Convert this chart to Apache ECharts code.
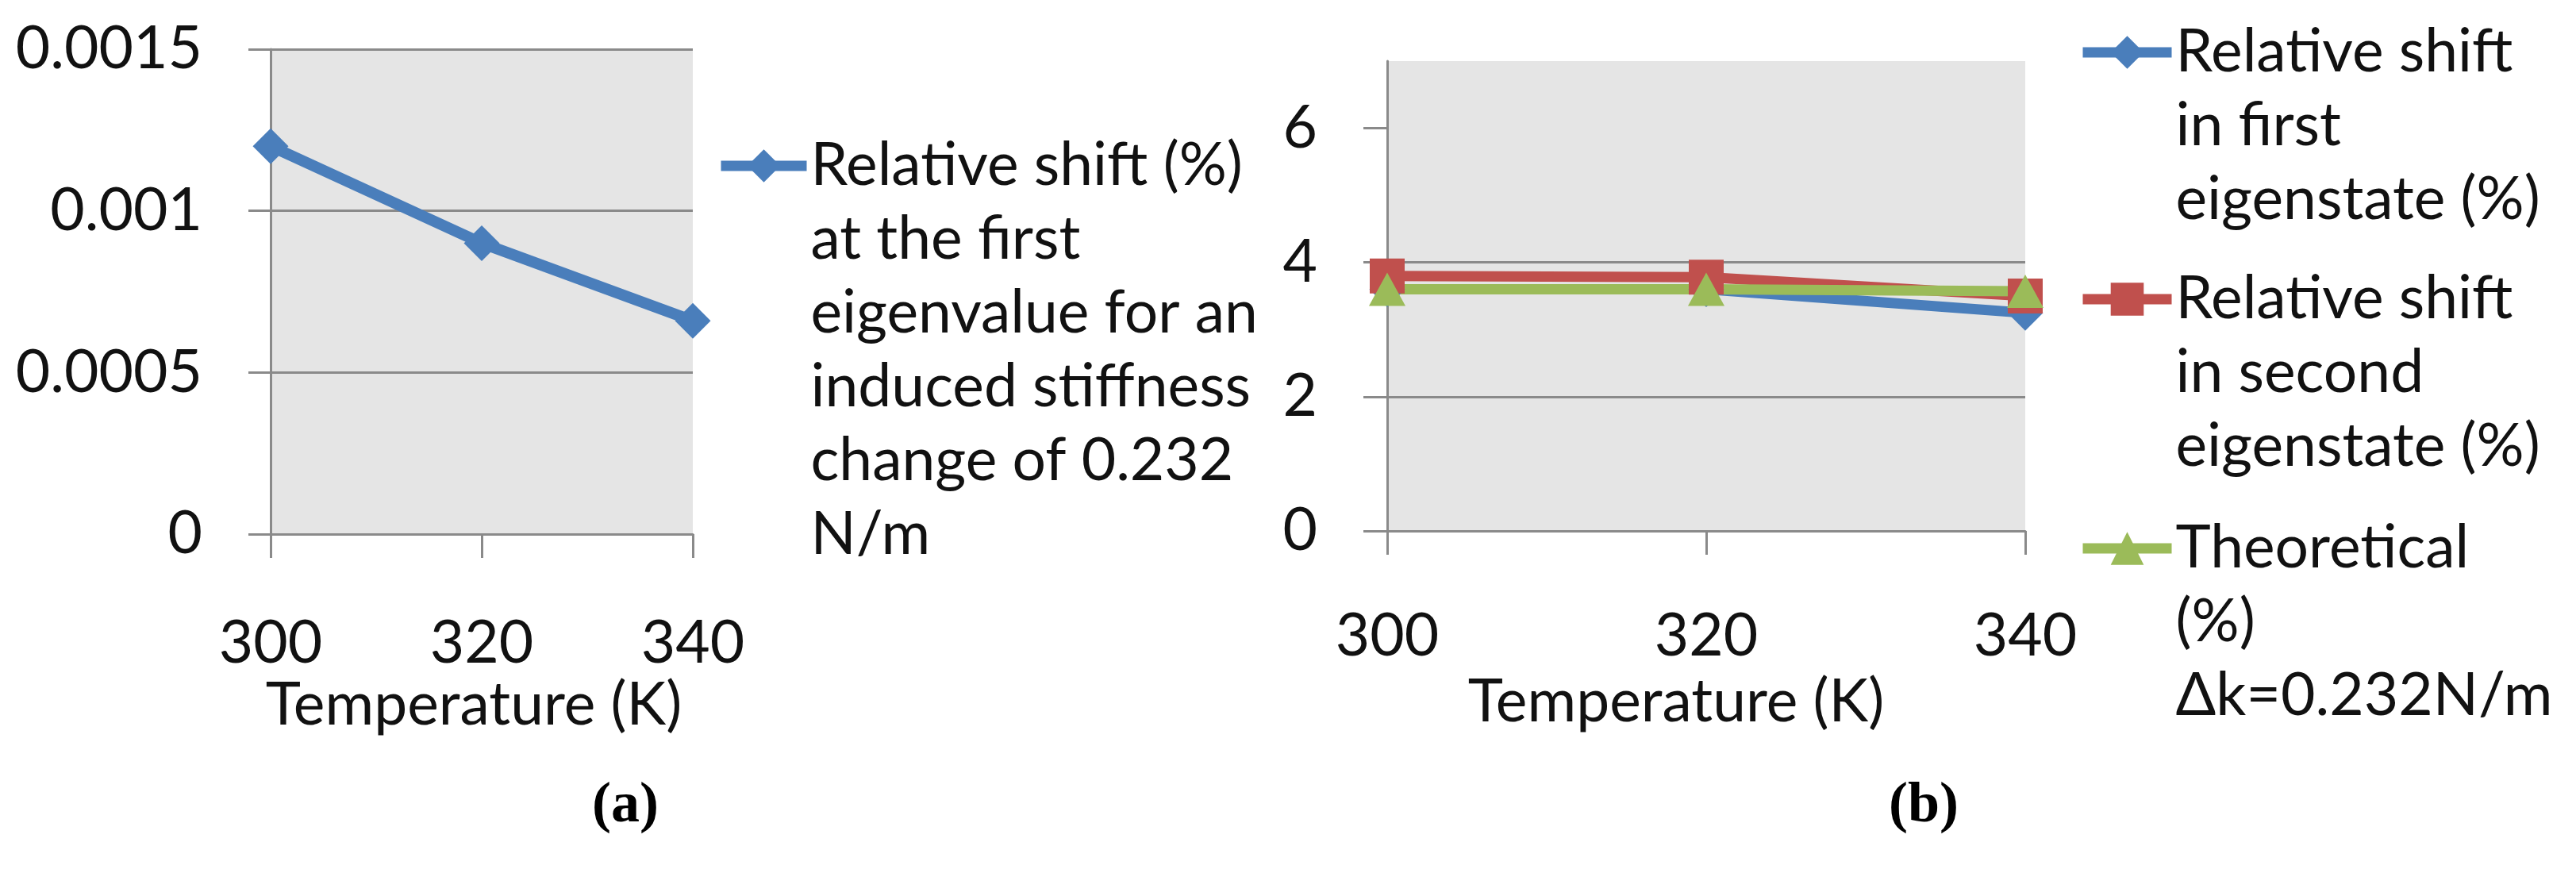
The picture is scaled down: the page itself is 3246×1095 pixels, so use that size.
<!DOCTYPE html>
<html>
<head>
<meta charset="utf-8">
<script src="https://cdn.jsdelivr.net/npm/echarts@6/dist/echarts.min.js"></script>
<style>
html, body { margin: 0; padding: 0; background: #fff; }
#main { width: 3246px; height: 1095px; }
</style>
</head>
<body>
<div id="main"></div>
<script>
// temperatures on the x axis of both panels
const temps = ['300', '320', '340'];
// panel (a)
const shiftA = [0.0012, 0.0009, 0.00066];
// panel (b)
const shiftFirst = [3.6, 3.6, 3.25];
const shiftSecond = [3.8, 3.78, 3.5];
const theoretical = [3.6, 3.6, 3.57];

const nameA = 'Relative shift (%)\nat the first\neigenvalue for an\ninduced stiffness\nchange of 0.232\nN/m';
const name1 = 'Relative shift\nin first\neigenstate (%)';
const name2 = 'Relative shift\nin second\neigenstate (%)';
const name3 = 'Theoretical\n(%)\n\u0394k=0.232N/m';

const FONT = 'Lato';
const FS = 75;
const LH = 93;
const gridGray = '#8a8a8a';
const colors = { blue: '#4a7ebb', red: '#c0504d', green: '#9bbb59' };

const chart = echarts.init(document.getElementById('main'));

function xAxisOf(gridIndex, margin, shift) {
  return {
    type: 'category',
    gridIndex: gridIndex,
    data: temps,
    boundaryGap: false,
    axisLine: { lineStyle: { color: gridGray, width: 3 } },
    axisTick: { show: true, length: 30, lineStyle: { color: gridGray, width: 3 } },
    axisLabel: { margin: margin, color: '#111', fontFamily: FONT, fontSize: FS },
    splitLine: { show: false },
    name: 'Temperature (K)',
    nameLocation: 'middle',
    nameGap: 178,
    nameMoveOverlap: false,
    nameTextStyle: { color: '#111', fontFamily: FONT, fontSize: FS, padding: [0, shift, 0, 0] }
  };
}

// legend text is centred on the icon, so blank lines go in front to put the first line level with it
function legendOf(name, left, iconY, lines, itemWidth) {
  return {
    data: [name],
    orient: 'vertical',
    left: left,
    top: iconY - (2 * lines - 1) * LH / 2,
    padding: 0,
    itemWidth: itemWidth,
    itemHeight: 52,
    lineStyle: { width: 13 },
    selectedMode: false,
    formatter: n => '\n'.repeat(lines - 1) + n,
    textStyle: { color: '#111', fontFamily: FONT, fontSize: FS, lineHeight: LH }
  };
}

const labelRich = {
  p: { fontFamily: 'Liberation Serif', fontSize: 72, color: '#000' },
  b: { fontFamily: 'Liberation Serif', fontSize: 72, fontWeight: 'bold', color: '#000' }
};

const option = {
  animation: false,
  backgroundColor: '#fff',
  title: [
    { text: '{p|(}{b|a}{p|)}', left: 746, top: 980, padding: 0, textStyle: { rich: labelRich } },
    { text: '{p|(}{b|b}{p|)}', left: 2380, top: 980, padding: 0, textStyle: { rich: labelRich } }
  ],
  grid: [
    { left: 341, top: 62, width: 532, height: 611, show: true, backgroundColor: '#e5e5e5', borderWidth: 0 },
    { left: 1748, top: 77, width: 804, height: 592, show: true, backgroundColor: '#e5e5e5', borderWidth: 0 }
  ],
  legend: [
    legendOf(nameA, 902, 209, 6, 108),
    legendOf(name1, 2618, 66, 3, 112),
    legendOf(name2, 2618, 377, 3, 112),
    legendOf(name3, 2618, 691, 3, 112)
  ],
  xAxis: [xAxisOf(0, 100, 20), xAxisOf(1, 95, 76)],
  yAxis: [
    {
      type: 'value', gridIndex: 0, min: 0, max: 0.0015, interval: 0.0005,
      axisLine: { show: true, lineStyle: { color: gridGray, width: 3 } },
      axisTick: { show: true, length: 28, lineStyle: { color: gridGray, width: 3 } },
      axisLabel: { margin: 86, color: '#111', fontFamily: FONT, fontSize: FS,
                   formatter: v => String(+v.toFixed(4)) },
      splitLine: { show: true, lineStyle: { color: gridGray, width: 3 } }
    },
    {
      type: 'value', gridIndex: 1, min: 0, max: 7, interval: 2,
      axisLine: { show: true, lineStyle: { color: gridGray, width: 3 } },
      axisTick: { show: true, length: 30, customValues: [0, 2, 4, 6], lineStyle: { color: gridGray, width: 3 } },
      axisLabel: { margin: 88, color: '#111', fontFamily: FONT, fontSize: FS, showMaxLabel: false },
      splitLine: { show: true, showMaxLine: false, lineStyle: { color: gridGray, width: 3 } }
    }
  ],
  series: [
    { name: nameA, type: 'line', xAxisIndex: 0, yAxisIndex: 0, data: shiftA,
      symbol: 'diamond', symbolSize: 45, color: colors.blue,
      lineStyle: { width: 14, color: colors.blue }, itemStyle: { color: colors.blue } },
    { name: name1, type: 'line', xAxisIndex: 1, yAxisIndex: 1, data: shiftFirst,
      symbol: 'diamond', symbolSize: 45, color: colors.blue,
      lineStyle: { width: 13, color: colors.blue }, itemStyle: { color: colors.blue } },
    { name: name2, type: 'line', xAxisIndex: 1, yAxisIndex: 1, data: shiftSecond,
      symbol: 'rect', symbolSize: 44, color: colors.red,
      lineStyle: { width: 13, color: colors.red }, itemStyle: { color: colors.red } },
    { name: name3, type: 'line', xAxisIndex: 1, yAxisIndex: 1, data: theoretical,
      symbol: 'triangle', symbolSize: [46, 42], color: colors.green,
      lineStyle: { width: 13, color: colors.green }, itemStyle: { color: colors.green } }
  ]
};

chart.setOption(option);
</script>
</body>
</html>
